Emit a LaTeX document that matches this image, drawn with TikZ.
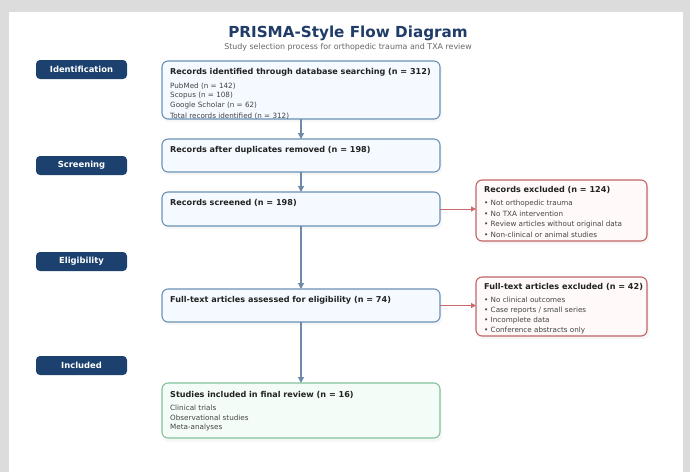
\documentclass[tikz,border=0pt]{standalone}
\usepackage{fontspec}
\setmainfont{DejaVu Sans}
\usetikzlibrary{arrows.meta}
\definecolor{bggrey}{HTML}{DCDCDC}
\definecolor{navy}{HTML}{1D416F}
\definecolor{titleblue}{HTML}{1F3D68}
\definecolor{subgrey}{HTML}{666666}
\definecolor{mainborder}{HTML}{6A91B5}
\definecolor{mainfill}{HTML}{F4FAFF}
\definecolor{arrowblue}{HTML}{6D8AAA}
\definecolor{redborder}{HTML}{C06464}
\definecolor{redfill}{HTML}{FFF9F9}
\definecolor{redarrow}{HTML}{C86A6A}
\definecolor{greenborder}{HTML}{82C29C}
\definecolor{greenfill}{HTML}{F3FCF6}
\definecolor{darktext}{HTML}{222222}
\definecolor{softtext}{HTML}{444444}
\tikzset{
  boxbase/.style={rounded corners=6pt, line width=1.1pt, inner sep=0pt, outer sep=0pt, anchor=north west},
  mainbox/.style={boxbase, draw=mainborder, fill=mainfill, minimum width=278pt},
  redbox/.style={boxbase, draw=redborder, fill=redfill, minimum width=171pt},
  greenbox/.style={boxbase, draw=greenborder, fill=greenfill, minimum width=278pt},
  phase/.style={rounded corners=4pt, fill=navy, text=white, font=\bfseries\fontsize{8.4}{9}\selectfont, minimum width=91pt, minimum height=19pt, inner sep=0pt},
  boxtitle/.style={anchor=west, inner sep=0pt, text=darktext, font=\bfseries\fontsize{8.1}{9}\selectfont},
  detail/.style={anchor=west, inner sep=0pt, text=softtext, font=\fontsize{7.2}{8}\selectfont},
  arr/.style={draw=arrowblue, line width=1.1pt, -{Triangle[length=6pt,width=6pt]}},
  redarr/.style={draw=redarrow, line width=1pt, -{Triangle[length=5pt,width=5pt]}},
  shade/.style={rounded corners=6pt, fill=black, fill opacity=0.035, draw=none}
}
\begin{document}
\begin{tikzpicture}[x=1pt,y=-1pt]
\useasboundingbox (0,0) rectangle (690,472);
\fill[bggrey] (0,0) rectangle (690,472);
\fill[white] (9,12) rectangle (683,472);

\node[font=\bfseries\fontsize{15.2}{18}\selectfont, text=titleblue, inner sep=0pt] (title) at (348,33) {PRISMA-Style Flow Diagram};
\node[font=\fontsize{7.9}{9}\selectfont, text=subgrey, inner sep=0pt] (subtitle) at (348,47.5) {Study selection process for orthopedic trauma and TXA review};

% phase labels
\node[phase] (p1) at (81.5,69.5) {Identification};
\node[phase] (p2) at (81.5,165.5) {Screening};
\node[phase] (p3) at (81.5,261.5) {Eligibility};
\node[phase] (p4) at (81.5,365.5) {Included};

% shadows
\fill[shade] (163,64) rectangle (442,122);
\fill[shade] (163,142) rectangle (442,175);
\fill[shade] (163,195) rectangle (442,229);
\fill[shade] (163,292) rectangle (442,325);
\fill[shade] (163,386) rectangle (442,442);
\fill[shade] (477,183) rectangle (649,244);
\fill[shade] (477,280) rectangle (649,339);

% main boxes
\node[mainbox, minimum height=58pt] (b1) at (162,61) {};
\node[mainbox, minimum height=33pt] (b2) at (162,139) {};
\node[mainbox, minimum height=34pt] (b3) at (162,192) {};
\node[mainbox, minimum height=33pt] (b4) at (162,289) {};
\node[greenbox, minimum height=55pt] (b5) at (162,383) {};

% exclusion boxes
\node[redbox, minimum height=61pt] (e1) at (476,180) {};
\node[redbox, minimum height=59pt] (e2) at (476,277) {};

% texts box 1
\node[boxtitle] (t1) at (170,72) {Records identified through database searching (n = 312)};
\node[detail] (d11) at (170,86) {PubMed (n = 142)};
\node[detail] (d12) at (170,96) {Scopus (n = 108)};
\node[detail] (d13) at (170,106) {Google Scholar (n = 62)};
\node[detail] (d14) at (170,116) {Total records identified (n = 312)};

\node[boxtitle] (t2) at (170,150) {Records after duplicates removed (n = 198)};
\node[boxtitle] (t3) at (170,203) {Records screened (n = 198)};
\node[boxtitle] (t4) at (170,300) {Full-text articles assessed for eligibility (n = 74)};

\node[boxtitle] (t5) at (170,395) {Studies included in final review (n = 16)};
\node[detail] (d51) at (170,408) {Clinical trials};
\node[detail] (d52) at (170,418) {Observational studies};
\node[detail] (d53) at (170,428) {Meta-analyses};

\node[boxtitle] (te1) at (484,190) {Records excluded (n = 124)};
\node[detail] (de11) at (484,204) {• Not orthopedic trauma};
\node[detail] (de12) at (484,214) {• No TXA intervention};
\node[detail] (de13) at (484,225) {• Review articles without original data};
\node[detail] (de14) at (484,235) {• Non-clinical or animal studies};

\node[boxtitle] (te2) at (484,287) {Full-text articles excluded (n = 42)};
\node[detail] (de21) at (484,300) {• No clinical outcomes};
\node[detail] (de22) at (484,311) {• Case reports / small series};
\node[detail] (de23) at (484,321) {• Incomplete data};
\node[detail] (de24) at (484,331) {• Conference abstracts only};

% connectors
\draw[arr] (b1.south) -- (b2.north);
\draw[arr] (b2.south) -- (b3.north);
\draw[arr] (b3.south) -- (b4.north);
\draw[arr] (b4.south) -- (b5.north);
\draw[redarr] (b3.east) -- (b3.east -| e1.west);
\draw[redarr] (b4.east) -- (b4.east -| e2.west);
\end{tikzpicture}
\end{document}
